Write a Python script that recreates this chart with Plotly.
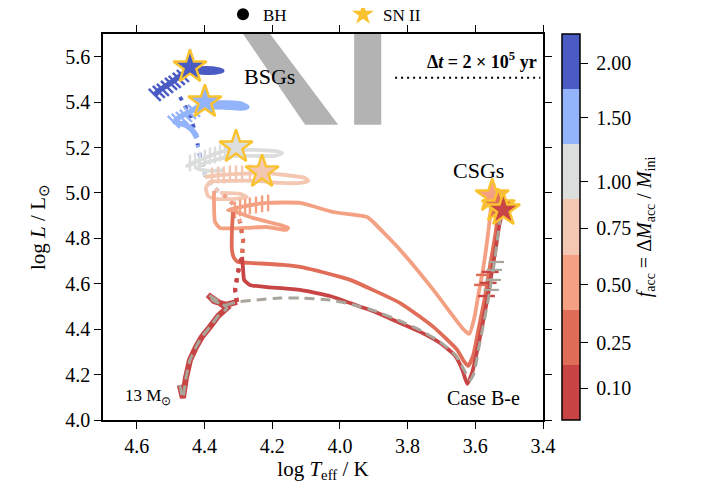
import plotly.graph_objects as go

FONT = "Liberation Serif"

# ---------------- data ----------------
facc_labels = ["2.00", "1.50", "1.00", "0.75", "0.50", "0.25", "0.10"]
facc_tickpos = [6.47, 5.48, 4.32, 3.48, 2.45, 1.40, 0.58]
track_colors = ["#4a5bc4", "#93b4fb", "#dcdddd", "#f3c7b1", "#f4a183", "#e06d57", "#c94545"]

# main sequence (shared by all models)
ms_x = [4.473, 4.464, 4.455, 4.443, 4.425, 4.408, 4.384, 4.360, 4.334, 4.369, 4.390, 4.372, 4.337, 4.304]
ms_y = [4.154, 4.097, 4.185, 4.264, 4.322, 4.366, 4.410, 4.458, 4.493, 4.533, 4.551, 4.524, 4.507, 4.520]

# non-accreting reference track (grey dashed)
ref_x = [4.473, 4.464, 4.455, 4.443, 4.425, 4.408, 4.384, 4.360, 4.334, 4.369, 4.390, 4.372, 4.337, 4.304,
         4.245, 4.177, 4.118, 4.029, 3.970, 3.896, 3.822, 3.763, 3.704, 3.659, 3.636, 3.615, 3.603,
         3.591, 3.576, 3.562, 3.547, 3.535, 3.526]
ref_y = [4.154, 4.097, 4.185, 4.264, 4.322, 4.366, 4.410, 4.458, 4.493, 4.533, 4.551, 4.524, 4.507, 4.520,
         4.529, 4.537, 4.537, 4.529, 4.511, 4.480, 4.436, 4.396, 4.344, 4.286, 4.229, 4.176, 4.211,
         4.308, 4.419, 4.529, 4.661, 4.793, 4.894]

# accretion phase path (dotted), each model follows it up to acc_end points
acc_x = [4.304, 4.310, 4.301, 4.289, 4.286, 4.295, 4.316, 4.343, 4.372, 4.396, 4.411, 4.420, 4.428, 4.443, 4.458, 4.476]
acc_y = [4.520, 4.573, 4.652, 4.727, 4.793, 4.872, 4.952, 4.991, 5.022, 5.066, 5.145, 5.211, 5.269, 5.344, 5.388, 5.432]
acc_end = [16, 12, 11, 9, 8, 6, 4]

# post-accretion tracks
t200_x = [4.547, 4.532, 4.508, 4.488, 4.467, 4.449, 4.414, 4.378, 4.349, 4.369, 4.414, 4.443]
t200_y = [5.432, 5.454, 5.476, 5.498, 5.520, 5.537, 5.546, 5.546, 5.537, 5.533, 5.533, 5.555]
t150_x = [4.422, 4.437, 4.458, 4.488, 4.473, 4.443, 4.420, 4.399, 4.369, 4.331, 4.295, 4.275, 4.295, 4.340, 4.384]
t150_y = [5.242, 5.278, 5.300, 5.313, 5.335, 5.357, 5.379, 5.392, 5.396, 5.396, 5.392, 5.379, 5.374, 5.379, 5.379]
t100_x = [4.414, 4.443, 4.452, 4.428, 4.399, 4.369, 4.340, 4.295, 4.236, 4.192, 4.171, 4.192, 4.251, 4.310,
          4.369, 4.414, 4.420, 4.384, 4.340]
t100_y = [5.145, 5.123, 5.119, 5.137, 5.154, 5.172, 5.185, 5.189, 5.189, 5.185, 5.176, 5.163, 5.163, 5.163,
          5.145, 5.123, 5.106, 5.097, 5.101]
t075_x = [4.399, 4.354, 4.295, 4.236, 4.162, 4.103, 4.094, 4.118, 4.177, 4.251, 4.325, 4.384, 4.396, 4.390,
          4.369, 4.310, 4.275, 4.295, 4.354]
t075_y = [5.070, 5.079, 5.084, 5.088, 5.079, 5.066, 5.053, 5.044, 5.044, 5.053, 5.053, 5.048, 5.022, 4.987,
          4.974, 4.974, 4.982, 4.996, 5.000]
t050_x = [4.372, 4.372, 4.369, 4.354, 4.280, 4.215, 4.159, 4.153, 4.177, 4.257, 4.316, 4.331, 4.295, 4.215,
          4.118, 4.020, 3.920, 3.902, 3.822, 3.724, 3.636, 3.618, 3.603, 3.591, 3.576, 3.562, 3.550]
t050_y = [5.009, 4.947, 4.872, 4.846, 4.846, 4.850, 4.837, 4.846, 4.859, 4.890, 4.921, 4.925, 4.938, 4.956,
          4.956, 4.916, 4.894, 4.872, 4.749, 4.573, 4.401, 4.379, 4.449, 4.551, 4.674, 4.824, 4.987]
t025_x = [4.316, 4.319, 4.319, 4.313, 4.301, 4.266, 4.168, 4.118, 3.999, 3.970, 3.822, 3.724, 3.653, 3.636,
          3.621, 3.606, 3.591, 3.573, 3.556, 3.541, 3.529]
t025_y = [4.916, 4.837, 4.749, 4.714, 4.696, 4.692, 4.683, 4.674, 4.630, 4.617, 4.515, 4.410, 4.308, 4.264,
          4.238, 4.286, 4.396, 4.529, 4.683, 4.815, 4.947]
t010_x = [4.289, 4.286, 4.283, 4.266, 4.221, 4.118, 4.029, 3.970, 3.896, 3.822, 3.763, 3.704, 3.659, 3.638,
          3.624, 3.609, 3.594, 3.579, 3.565, 3.550, 3.538, 3.529, 3.517]
t010_y = [4.718, 4.661, 4.617, 4.595, 4.586, 4.573, 4.546, 4.515, 4.476, 4.427, 4.388, 4.339, 4.282, 4.220,
          4.159, 4.211, 4.308, 4.419, 4.529, 4.661, 4.771, 4.859, 4.934]

tracks_x = [t200_x, t150_x, t100_x, t075_x, t050_x, t025_x, t010_x]
tracks_y = [t200_y, t150_y, t100_y, t075_y, t050_y, t025_y, t010_y]

# time markers (every 2e5 yr)
tick200_x = [4.547, 4.535, 4.523, 4.511, 4.499, 4.488, 4.476, 4.464]
tick200_y = [5.432, 5.445, 5.454, 5.467, 5.480, 5.489, 5.502, 5.515]
tick150_x = [4.491, 4.479, 4.467, 4.455, 4.443, 4.431, 4.449, 4.437]
tick150_y = [5.313, 5.322, 5.330, 5.339, 5.352, 5.361, 5.291, 5.282]
tick100_x = [4.443, 4.428, 4.414, 4.399, 4.384, 4.369, 4.354, 4.340]
tick100_y = [5.132, 5.141, 5.145, 5.154, 5.163, 5.167, 5.176, 5.181]
tick075_x = [4.378, 4.360, 4.343, 4.325, 4.307, 4.289, 4.266]
tick075_y = [5.075, 5.079, 5.079, 5.084, 5.084, 5.084, 5.088]
tick050_x = [4.310, 4.295, 4.280, 4.266, 4.248, 4.230, 4.212]
tick050_y = [4.925, 4.934, 4.938, 4.943, 4.947, 4.952, 4.956]
tick025_x = [3.579, 3.573]
tick025_y = [4.595, 4.639]
tick010_x = [3.567, 3.562, 3.556]
tick010_y = [4.546, 4.604, 4.652]
tickref_x = [3.553, 3.547, 3.544, 3.538]
tickref_y = [4.573, 4.617, 4.661, 4.696]

ticks_x = [tick200_x, tick150_x, tick100_x, tick075_x, tick050_x, tick025_x, tick010_x]
ticks_y = [tick200_y, tick150_y, tick100_y, tick075_y, tick050_y, tick025_y, tick010_y]
tick_symbols = ["line-nw", "line-nw", "line-ns", "line-ns", "line-ns", "line-ew", "line-ew"]

# end points (SN II)
star_x = [4.443, 4.399, 4.307, 4.230, 3.550, 3.532, 3.517]
star_y = [5.555, 5.401, 5.203, 5.093, 4.987, 4.943, 4.925]

# grey bands
band1_x = [4.286, 4.206, 4.005, 4.103]
band1_y = [5.70, 5.70, 5.30, 5.30]
band2_x = [3.958, 3.878, 3.878, 3.958]
band2_y = [5.70, 5.70, 5.30, 5.30]

# dt legend line
dt_x = [3.837, 3.408]
dt_y = [5.507, 5.507]

x_ticks = [4.6, 4.4, 4.2, 4.0, 3.8, 3.6, 3.4]
y_ticks = [4.0, 4.2, 4.4, 4.6, 4.8, 5.0, 5.2, 5.4, 5.6]

# ---------------- figure ----------------
fig = go.Figure()

for bx, by in [(band1_x, band1_y), (band2_x, band2_y)]:
    fig.add_trace(go.Scatter(x=bx, y=by, fill="toself", fillcolor="#b3b3b3", mode="lines",
                             line=dict(width=0, color="#b3b3b3"), showlegend=False, hoverinfo="skip"))

for i, col in enumerate(track_colors):
    n = acc_end[i]
    fig.add_trace(go.Scatter(x=acc_x[:n], y=acc_y[:n], mode="lines",
                             line=dict(color=col, width=4, dash="4px,6px"),
                             showlegend=False, hoverinfo="skip"))
    w = 5.5 if i < 2 else 3.8
    fig.add_trace(go.Scatter(x=tracks_x[i], y=tracks_y[i], mode="lines",
                             line=dict(color=col, width=w, shape="spline", smoothing=0.5),
                             showlegend=False, hoverinfo="skip"))
    fig.add_trace(go.Scatter(x=ticks_x[i], y=ticks_y[i], mode="markers",
                             marker=dict(symbol=tick_symbols[i], size=12,
                                         line=dict(color=col, width=2.4)),
                             showlegend=False, hoverinfo="skip"))

# shared main sequence
fig.add_trace(go.Scatter(x=ms_x, y=ms_y, mode="lines",
                         line=dict(color=track_colors[-1], width=6),
                         showlegend=False, hoverinfo="skip"))
# reference non-accreting track
fig.add_trace(go.Scatter(x=tickref_x, y=tickref_y, mode="markers",
                         marker=dict(symbol="line-ew", size=11, line=dict(color="#a8a59a", width=2.2)),
                         showlegend=False, hoverinfo="skip"))
fig.add_trace(go.Scatter(x=ref_x, y=ref_y, mode="lines",
                         line=dict(color="#a8a59a", width=3, dash="10px,6px", shape="spline", smoothing=0.5),
                         showlegend=False, hoverinfo="skip"))

# stars
fig.add_trace(go.Scatter(x=star_x, y=star_y, mode="markers",
                         marker=dict(symbol="star", size=25, color=track_colors,
                                     line=dict(color="#f9c22e", width=2.4)),
                         showlegend=False, hoverinfo="skip"))

# dt legend line
fig.add_trace(go.Scatter(x=dt_x, y=dt_y, mode="lines",
                         line=dict(color="black", width=2, dash="2px,4px"),
                         showlegend=False, hoverinfo="skip"))

# legend entries
fig.add_trace(go.Scatter(x=[None], y=[None], mode="markers", name="BH",
                         marker=dict(symbol="circle", size=13, color="black")))
fig.add_trace(go.Scatter(x=[None], y=[None], mode="markers", name="SN II",
                         marker=dict(symbol="star", size=17, color="#f9c22e",
                                     line=dict(color="#f9c22e", width=1))))

# colorbar
n = len(track_colors)
cs = []
for k, c in enumerate(reversed(track_colors)):
    cs.append([k / n, c])
    cs.append([(k + 1) / n, c])
fig.add_trace(go.Scatter(
    x=[None], y=[None], mode="markers", showlegend=False, hoverinfo="skip",
    marker=dict(color=[0], cmin=0, cmax=n, colorscale=cs, showscale=True,
                colorbar=dict(
                    x=(562 - 103) / 440, xanchor="left", xpad=0, ypad=0,
                    y=0.5, yanchor="middle", len=1, lenmode="fraction",
                    thickness=18, outlinewidth=1.5, outlinecolor="black",
                    tickmode="array", tickvals=facc_tickpos,
                    ticktext=["\u2009" + t for t in facc_labels],
                    ticks="outside", ticklen=8, tickwidth=1.3, tickcolor="black",
                    tickfont=dict(family=FONT, size=20, color="black"),
                    title=dict(text="<i>f</i><sub>acc</sub> = Δ<i>M</i><sub>acc</sub> / <i>M</i><sub>ini</sub>",
                               side="right", font=dict(family=FONT, size=20, color="black")),
                ))))

ann = dict(showarrow=False, font=dict(family=FONT, size=22, color="black"))
fig.add_annotation(x=4.207, y=5.511, text="BSGs", **ann)
fig.add_annotation(x=3.591, y=5.101, text="CSGs", **ann)
fig.add_annotation(x=3.576, y=4.097, text="Case B-e", showarrow=False,
                   font=dict(family=FONT, size=20, color="black"))
fig.add_annotation(x=4.567, y=4.101, text="13 M<sub>⊙</sub>", showarrow=False,
                   font=dict(family=FONT, size=17, color="black"))
fig.add_annotation(xref="paper", yref="paper", x=0.99, y=0.966, xanchor="right",
                   text="<b>Δ<i>t</i> = 2 × 10<sup>5</sup> yr</b>", showarrow=False,
                   font=dict(family=FONT, size=18, color="black"))

axis_common = dict(showline=True, linecolor="black", linewidth=1.5, mirror="ticks",
                   ticks="outside", ticklen=7, tickwidth=1.3, tickcolor="black",
                   showgrid=False, zeroline=False,
                   tickfont=dict(family=FONT, size=20, color="black"))

fig.update_layout(
    width=699, height=494,
    margin=dict(l=95, r=164, t=26, b=82, autoexpand=False),
    paper_bgcolor="white", plot_bgcolor="white",
    font=dict(family=FONT, color="black"),
    hovermode=False,
    xaxis=dict(range=[4.7, 3.4], tickmode="array", tickvals=x_ticks,
               ticktext=[f"{v:.1f}" for v in x_ticks],
               title=dict(text="log <i>T</i><sub>eff</sub> / K", font=dict(family=FONT, size=21), standoff=2),
               **axis_common),
    yaxis=dict(range=[4.0, 5.7], tickmode="array", tickvals=y_ticks,
               ticktext=[f"{v:.1f}" for v in y_ticks],
               title=dict(text="log <i>L</i> / L<sub>⊙</sub>", font=dict(family=FONT, size=21), standoff=14),
               **axis_common),
    legend=dict(orientation="h", x=(223 - 103) / 440, y=1.05, xanchor="left", yanchor="middle",
                entrywidth=75, entrywidthmode="pixels", itemsizing="constant", tracegroupgap=0,
                font=dict(family=FONT, size=17, color="black"), bgcolor="rgba(0,0,0,0)"),
)

fig.write_html("out.html")
